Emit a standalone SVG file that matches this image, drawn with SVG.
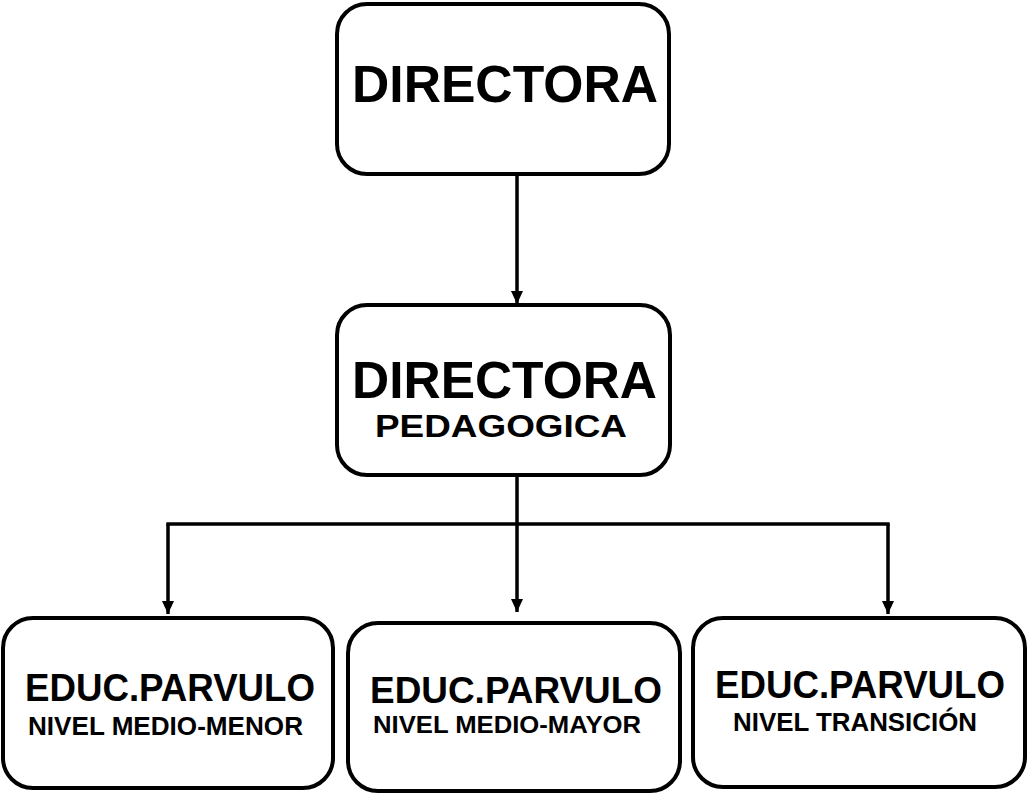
<svg xmlns="http://www.w3.org/2000/svg" width="1029" height="793" viewBox="0 0 1029 793">
<style>
.box{fill:#fff;stroke:#000;stroke-width:4}
.t{font-family:"Liberation Sans",Arial,sans-serif;font-weight:bold;fill:#000}
.c{fill:none;stroke:#000;stroke-width:3.5}
</style>
<defs>
<marker id="ah" viewBox="0 0 13 12" refX="13" refY="6" markerWidth="13" markerHeight="12" markerUnits="userSpaceOnUse" orient="auto">
<path d="M0,0 L13,6 L0,12 z" fill="#000"/>
</marker>
</defs>
<rect width="1029" height="793" fill="#fff"/>
<g id="connectors">
<line class="c" x1="517" y1="175" x2="517" y2="304" marker-end="url(#ah)"/>
<line class="c" x1="517" y1="475" x2="517" y2="524"/>
<line class="c" x1="166.3" y1="524" x2="889.7" y2="524"/>
<line class="c" x1="168" y1="524" x2="168" y2="614" marker-end="url(#ah)"/>
<line class="c" x1="517" y1="524" x2="517" y2="612" marker-end="url(#ah)"/>
<line class="c" x1="888" y1="524" x2="888" y2="614" marker-end="url(#ah)"/>
</g>
<g id="directora">
<rect class="box" x="337" y="4" width="332" height="170" rx="30"/>
<text class="t" x="352" y="102" font-size="51" textLength="306" lengthAdjust="spacingAndGlyphs">DIRECTORA</text>
</g>
<g id="directora-pedagogica">
<rect class="box" x="337" y="305" width="333" height="170" rx="30"/>
<text class="t" x="352" y="398" font-size="51" textLength="305" lengthAdjust="spacingAndGlyphs">DIRECTORA</text>
<text class="t" x="375" y="437" font-size="32" textLength="252" lengthAdjust="spacingAndGlyphs">PEDAGOGICA</text>
</g>
<g id="medio-menor">
<rect class="box" x="3" y="618" width="330" height="170" rx="30"/>
<text class="t" x="25" y="701" font-size="39" textLength="290" lengthAdjust="spacingAndGlyphs">EDUC.PARVULO</text>
<text class="t" x="28" y="735" font-size="26" textLength="275" lengthAdjust="spacingAndGlyphs">NIVEL MEDIO-MENOR</text>
</g>
<g id="medio-mayor">
<rect class="box" x="348" y="623" width="332" height="168" rx="30"/>
<text class="t" x="370" y="703" font-size="36" textLength="292" lengthAdjust="spacingAndGlyphs">EDUC.PARVULO</text>
<text class="t" x="373" y="733" font-size="24" textLength="268" lengthAdjust="spacingAndGlyphs">NIVEL MEDIO-MAYOR</text>
</g>
<g id="transicion">
<rect class="box" x="693" y="618" width="332" height="169" rx="30"/>
<text class="t" x="715" y="698" font-size="39" textLength="290" lengthAdjust="spacingAndGlyphs">EDUC.PARVULO</text>
<text class="t" x="733" y="731" font-size="26" textLength="244" lengthAdjust="spacingAndGlyphs">NIVEL TRANSICIÓN</text>
</g>
</svg>
